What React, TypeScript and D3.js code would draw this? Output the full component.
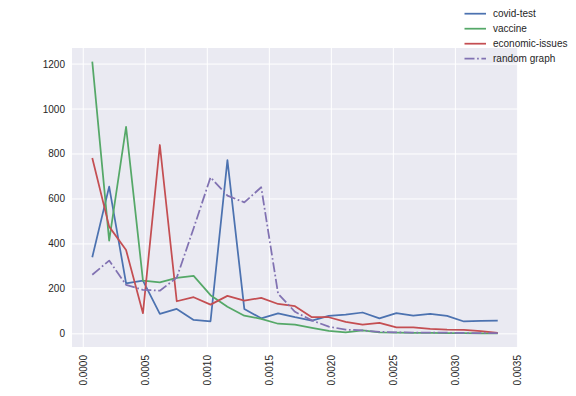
import React from "react";
import * as d3 from "d3";

const xValues = [
  0.0000725, 0.0002087, 0.0003449, 0.0004811, 0.0006173, 0.0007535, 0.0008897,
  0.0010259, 0.0011621, 0.0012983, 0.0014345, 0.0015707, 0.0017069, 0.0018431,
  0.0019793, 0.0021155, 0.0022517, 0.0023879, 0.0025241, 0.0026603, 0.0027965,
  0.0029327, 0.0030689, 0.0032051, 0.0033413,
];

const covidTest = [341, 655, 225, 237, 89, 111, 62, 56, 773, 111, 69, 91, 74, 59, 80, 86, 95, 69, 92, 81, 89, 80, 55, 58, 59];
const vaccine = [1211, 415, 921, 237, 229, 249, 258, 172, 121, 81, 67, 45, 41, 27, 13, 7, 15, 7, 5, 4, 4, 3, 3, 2, 2];
const economicIssues = [782, 477, 373, 92, 840, 145, 163, 130, 169, 148, 160, 133, 123, 74, 74, 53, 41, 49, 29, 29, 22, 19, 18, 12, 4];
const randomGraph = [263, 326, 218, 196, 192, 250, 470, 696, 615, 585, 652, 178, 98, 60, 32, 19, 15, 9, 7, 6, 5, 5, 4, 3, 3];

const xTicks = [0, 0.0005, 0.001, 0.0015, 0.002, 0.0025, 0.003, 0.0035];
const yTicks = [0, 200, 400, 600, 800, 1000, 1200];

const seriesNames = ["covid-test", "vaccine", "economic-issues", "random graph"];
const seriesData = [covidTest, vaccine, economicIssues, randomGraph];
const colors = ["#4C72B0", "#55A868", "#C44E52", "#8172B2"];
const dashes = [null, null, null, "10,2.6,1.7,2.6"];

export default function App() {
  const W = 576, H = 396;
  const left = 72, right = 518, top = 48, bottom = 347;

  const allY = seriesData.flat();
  const xMin = d3.min(xValues)!, xMax = d3.max(xValues)!;
  const yMin = d3.min(allY)!, yMax = d3.max(allY)!;
  const xm = (xMax - xMin) * 0.05, ym = (yMax - yMin) * 0.05;

  const x = d3.scaleLinear().domain([xMin - xm, xMax + xm]).range([left, right]);
  const y = d3.scaleLinear().domain([yMin - ym, yMax + ym]).range([bottom, top]);

  const line = d3.line<number>().x((_, i) => x(xValues[i])).y((v) => y(v));
  const font = "'Liberation Sans', Arial, sans-serif";

  return (
    <svg width={W} height={H} style={{ position: "absolute", left: 0, top: 0 }} fontFamily={font}>
      <rect x={0} y={0} width={W} height={H} fill="#ffffff" />
      <rect x={left} y={top} width={right - left} height={bottom - top} fill="#EAEAF2" />
      <defs>
        <clipPath id="clip">
          <rect x={left} y={top} width={right - left} height={bottom - top} />
        </clipPath>
      </defs>
      {xTicks.map((t) => (
        <line key={"gx" + t} x1={x(t)} x2={x(t)} y1={top} y2={bottom} stroke="#fff" strokeWidth={1} />
      ))}
      {yTicks.map((t) => (
        <line key={"gy" + t} x1={left} x2={right} y1={y(t)} y2={y(t)} stroke="#fff" strokeWidth={1} />
      ))}
      <g clipPath="url(#clip)">
        {seriesData.map((s, k) => (
          <path
            key={k}
            d={line(s)!}
            fill="none"
            stroke={colors[k]}
            strokeWidth={1.75}
            strokeDasharray={dashes[k] ?? undefined}
            strokeLinejoin="round"
          />
        ))}
      </g>
      {yTicks.map((t) => (
        <text key={"ty" + t} x={left - 7} y={y(t)} dy="0.35em" textAnchor="end" fontSize={10} fill="#262626">
          {t}
        </text>
      ))}
      {xTicks.map((t) => (
        <text
          key={"tx" + t}
          transform={`translate(${x(t)},${bottom + 8}) rotate(-90)`}
          textAnchor="end"
          dy="0.35em"
          fontSize={10}
          fill="#262626"
        >
          {t.toFixed(4)}
        </text>
      ))}
      {seriesNames.map((n, k) => {
        const ly = 13.7 + k * 15;
        return (
          <g key={"lg" + n}>
            <line x1={464.5} x2={486} y1={ly} y2={ly} stroke={colors[k]} strokeWidth={1.75}
              strokeDasharray={dashes[k] ?? undefined} />
            <text x={493} y={ly} dy="0.35em" fontSize={10} fill="#262626">{n}</text>
          </g>
        );
      })}
    </svg>
  );
}
